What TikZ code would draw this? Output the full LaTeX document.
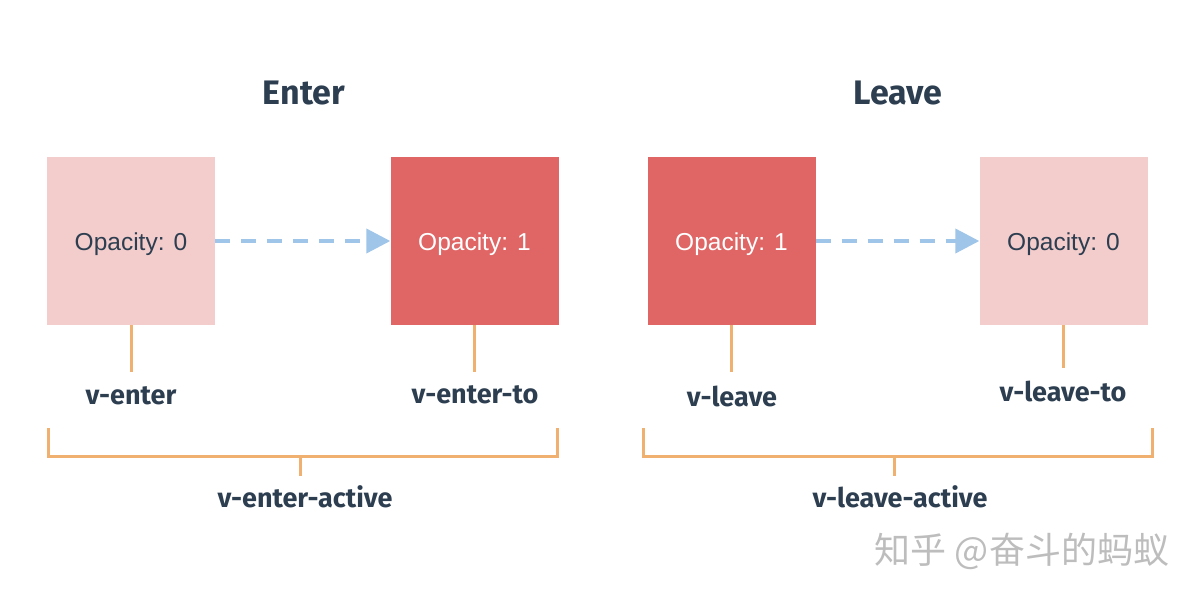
\documentclass[tikz,border=0pt]{standalone}
\usepackage{fontspec}
\setmainfont{Fira Sans}
\newfontfamily\opfont{Liberation Sans}
\newfontfamily\cjkfont{Noto Sans CJK SC}
\usetikzlibrary{arrows.meta}
\definecolor{pinklight}{HTML}{F3CCCC}
\definecolor{redbox}{HTML}{E06666}
\definecolor{darktext}{HTML}{2C3E50}
\definecolor{orangeline}{HTML}{F0B070}
\definecolor{bluearrow}{HTML}{9FC5E8}
\definecolor{wmgray}{HTML}{BDBDBD}
\tikzset{
  boxtext/.style={font=\opfont\fontsize{24.5}{28}\selectfont, inner sep=0pt},
  lightbox/.style={fill=pinklight, draw=none, minimum width=168pt, minimum height=168pt, inner sep=0pt},
  darkbox/.style={fill=redbox, draw=none, minimum width=168pt, minimum height=168pt, inner sep=0pt},
  title/.style={font=\fontsize{34}{40}\selectfont\bfseries, text=darktext, inner sep=0pt},
  lbl/.style={font=\fontsize{27}{32}\selectfont\bfseries, text=darktext, inner sep=0pt},
  oline/.style={draw=orangeline, line width=3pt},
  flow/.style={draw=bluearrow, line width=4pt, dash pattern=on 15pt off 11pt, -{Triangle[length=24pt,width=24pt]}},
  wm/.style={font=\cjkfont\fontsize{36}{40}\selectfont, text=wmgray, inner sep=0pt}
}
\begin{document}
\begin{tikzpicture}[x=1pt,y=-1pt]
\path[use as bounding box] (0,0) rectangle (1200,600);
% titles
\node[title] (tenter) at (304,93) {Enter};
\node[title] (tleave) at (898,93) {Leave};
% boxes
\node[lightbox] (b1) at (131,241) {};
\node[darkbox]  (b2) at (474.5,241) {};
\node[darkbox]  (b3) at (731.5,241) {};
\node[lightbox] (b4) at (1063.5,241) {};
\node[boxtext, text=darktext] (t1) at (131,250) [anchor=base] {Opacity: 0};
\node[boxtext, text=white] (t2) at (474.5,250) [anchor=base] {Opacity: 1};
\node[boxtext, text=white] (t3) at (731.5,250) [anchor=base] {Opacity: 1};
\node[boxtext, text=darktext] (t4) at (1063.5,250) [anchor=base] {Opacity: 0};
% arrows
\draw[flow] (b1.east) -- (b2.west);
\draw[flow] (b3.east) -- (b4.west);
% stems
\coordinate (s1) at (131,372);
\coordinate (s2) at (474.5,372);
\coordinate (s3) at (731.5,372);
\coordinate (s4) at (1063.5,368);
\draw[oline] (b1.south) -- (s1);
\draw[oline] (b2.south) -- (s2);
\draw[oline] (b3.south) -- (s3);
\draw[oline] (b4.south) -- (s4);
% labels
\node[lbl] (l1) at (131,396) {v-enter};
\node[lbl] (l2) at (475,395) {v-enter-to};
\node[lbl] (l3) at (732,396) {v-leave};
\node[lbl] (l4) at (1063,391) {v-leave-to};
% brackets
\coordinate (ea) at (48,428);
\coordinate (eb) at (557,428);
\coordinate (ec) at (300,456);
\coordinate (ed) at (300,476);
\draw[oline] (ea) |- (ec) -| (eb);
\draw[oline] (ec) -- (ed);
\coordinate (la) at (643,428);
\coordinate (lb) at (1152,428);
\coordinate (lc) at (894,456);
\coordinate (ld) at (894,476);
\draw[oline] (la) |- (lc) -| (lb);
\draw[oline] (lc) -- (ld);
\node[lbl] (ea1) at (305,497) {v-enter-active};
\node[lbl] (la1) at (900,497) {v-leave-active};
% watermark
\node[wm] (wmk) at (1022,551) {知乎 @奋斗的蚂蚁};
\end{tikzpicture}
\end{document}
